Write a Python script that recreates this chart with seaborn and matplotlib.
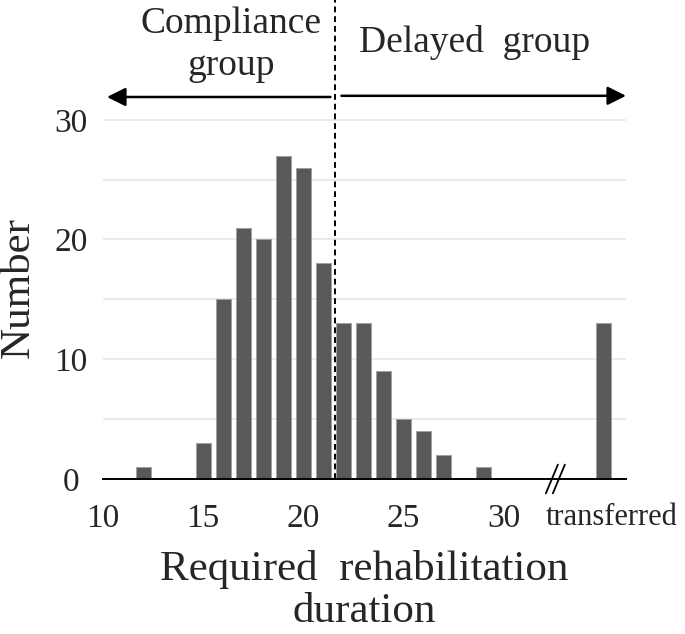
import matplotlib
matplotlib.use("Agg")
import matplotlib.pyplot as plt
from matplotlib.ticker import FixedLocator
from matplotlib.transforms import ScaledTranslation
import seaborn as sns
import pandas as pd

# ─────────────────────────────────────────────
# DATA
# ─────────────────────────────────────────────
durations = [12, 15, 16, 17, 18, 19, 20, 21, 22, 23, 24, 25, 26, 27, 29]
counts = [1, 3, 15, 21, 20, 27, 26, 18, 13, 13, 9, 5, 4, 2, 1]
transferred_count = 13

x_tick_values = [10, 15, 20, 25, 30]
x_tick_labels = ['10', '15', '20', '25', '30']
y_tick_values = [0, 10, 20, 30]

# layout constants
TRANSFER_POS = 35      # where the "transferred" bar sits on the axis
CUTOFF = 21.6          # dashed line between the two groups
BAR_COLOR = '#595959'
SERIF = ['Liberation Serif', 'DejaVu Serif']

sns.set_style('white')
plt.rcParams['font.family'] = SERIF

df = pd.DataFrame({
    'duration': durations + [TRANSFER_POS],
    'number': counts + [transferred_count],
})

fig = plt.figure(figsize=(6.85, 6.34), dpi=100)
ax = fig.add_axes([103 / 685, 155 / 634, 523 / 685, 479 / 634])

sns.barplot(data=df, x='duration', y='number', native_scale=True,
            width=0.75, color=BAR_COLOR, saturation=1, errorbar=None,
            edgecolor='#9a9a9a', linewidth=0.5, ax=ax)

ax.set_xlim(10, 36.1)
ax.set_ylim(0, 40)

# y axis: labels every 10, grid every 5
ax.yaxis.set_major_locator(FixedLocator(y_tick_values))
ax.yaxis.set_minor_locator(FixedLocator([5, 15, 25]))
ax.grid(axis='y', which='both', color='#e6e6e6', lw=1.2)
ax.set_axisbelow(True)
ax.tick_params(axis='y', which='both', length=0, pad=23, labelsize=24)
for lab in ax.get_yticklabels():
    lab.set_horizontalalignment('center')

# x axis
ax.set_xticks(x_tick_values + [TRANSFER_POS])
ax.set_xticklabels(x_tick_labels + ['transferred'])
ax.tick_params(axis='x', direction='out', length=8.5, width=1.3,
               color='black', pad=9, labelsize=24)
last = ax.get_xticklabels()[-1]
last.set_fontsize(22)
last.set_transform(last.get_transform() +
                   ScaledTranslation(8 / 100, 0, fig.dpi_scale_trans))

for side in ['top', 'right', 'left']:
    ax.spines[side].set_visible(False)
ax.spines['bottom'].set_color('black')
ax.spines['bottom'].set_linewidth(1.4)

# axis break mark "//"
for dx in [0, 0.35]:
    ax.plot([32.1 + dx, 32.7 + dx], [-1.2, 1.2], color='black',
            lw=1.3, clip_on=False)

ax.set_xlabel('Required  rehabilitation\nduration', fontsize=31,
              linespacing=1.1, labelpad=12)
ax.set_ylabel('Number', fontsize=31)
ax.yaxis.set_label_coords(-0.125, 0.40)

# group divider and arrows
ax.axvline(CUTOFF, color='black', lw=1.4, ls=(0, (3, 2)), zorder=3)
arrow = dict(arrowstyle='-|>', mutation_scale=28, lw=1.8,
             color='black', shrinkA=0, shrinkB=0)
ax.annotate('', xy=(10.2, 31.9), xytext=(21.35, 31.9),
            arrowprops=arrow, annotation_clip=False)
ax.annotate('', xy=(36.1, 32.0), xytext=(21.9, 32.0),
            arrowprops=arrow, annotation_clip=False)

fig.text(231 / 685, 1 - 45 / 634, 'Compliance\ngroup', fontsize=27,
         ha='center', va='center', linespacing=1.3)
fig.text(475 / 685, 1 - 42 / 634, 'Delayed  group', fontsize=27,
         ha='center', va='center')

fig.savefig('out.png', dpi=100)
plt.close(fig)
